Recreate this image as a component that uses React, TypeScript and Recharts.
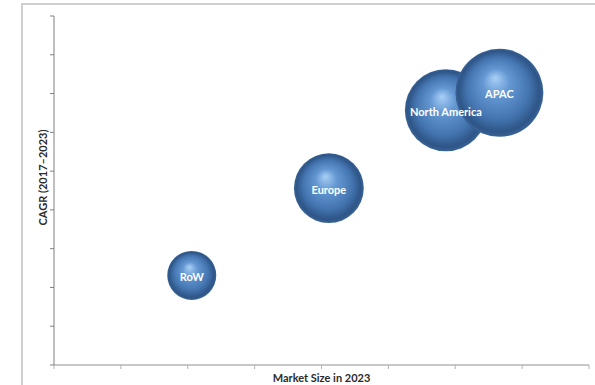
import React from 'react'
import { ScatterChart, Scatter, XAxis, YAxis, ZAxis, LabelList } from 'recharts'

// regions (x = market size, y = CAGR, z = relative bubble area)
const regions = ['RoW', 'Europe', 'North America', 'APAC']
const marketSize = [2.06, 4.11, 5.86, 6.66]
const cagr = [2.31, 4.56, 6.57, 7.02]
const bubbleSize = [31, 63, 87, 100]

const xTicks = [0, 1, 2, 3, 4, 5, 6, 7, 8]
const yTicks = [0, 1, 2, 3, 4, 5, 6, 7, 8, 9]

const data = regions.map((name, i) => ({ name, x: marketSize[i], y: cagr[i], z: bubbleSize[i] }))

const font = 'Lato, "Open Sans", sans-serif'

function Sphere(props: any) {
  const { cx, cy, width } = props
  return <circle cx={cx} cy={cy} r={width / 2} fill="url(#sphere)" />
}

function BubbleLabel(props: any) {
  const { viewBox, value } = props
  const cx = viewBox.x + viewBox.width / 2
  const cy = viewBox.y + viewBox.height / 2
  return (
    <text x={cx} y={cy + 1} textAnchor="middle" dominantBaseline="central"
      fontFamily={font} fontWeight="bold" fontSize={11} fill="#ffffff">
      {value}
    </text>
  )
}

function CagrLabel(props: any) {
  const { viewBox } = props
  const x = viewBox.x + 42
  const y = viewBox.y + viewBox.height / 2 - 13
  return (
    <text x={x} y={y} transform={`rotate(-90 ${x} ${y})`} textAnchor="middle" dominantBaseline="central"
      fontFamily={font} fontWeight="bold" fontSize={11} fill="#2b2b2b">
      CAGR (2017–2023)
    </text>
  )
}

const noLabel = () => ''

export default function App() {
  return (
    <div style={{ position: 'absolute', left: 0, top: 0, width: 595, height: 385, background: '#fff', overflow: 'hidden' }}>
      <div style={{ position: 'absolute', left: 21, top: 3, width: 600, height: 400, borderLeft: '2px solid #cfcfcf', borderTop: '2px solid #cfcfcf' }} />
      <ScatterChart width={595} height={385} margin={{ top: 16, right: 6, left: 0, bottom: 0 }} style={{ position: 'absolute', left: 0, top: 0 }}>
        <defs>
          <radialGradient id="sphere" cx="50%" cy="50%" r="50%" fx="45%" fy="33%">
            <stop offset="0%" stopColor="#a9d0f6" />
            <stop offset="30%" stopColor="#6598d3" />
            <stop offset="70%" stopColor="#4475b0" />
            <stop offset="92%" stopColor="#2e5587" />
            <stop offset="100%" stopColor="#3a6396" />
          </radialGradient>
        </defs>
        <XAxis dataKey="x" type="number" domain={[0, 8]} ticks={xTicks} tickFormatter={noLabel} height={20}
          axisLine={{ stroke: '#b4b4b4', strokeWidth: 1.5 }} tickLine={{ stroke: '#b4b4b4' }} tickSize={4}
          label={{ value: 'Market Size in 2023', position: 'insideBottom', offset: 3, fill: '#2b2b2b', fontSize: 11, fontWeight: 'bold', fontFamily: font }} />
        <YAxis dataKey="y" type="number" domain={[0, 9]} ticks={yTicks} tickFormatter={noLabel} width={54}
          axisLine={{ stroke: '#808080' }} tickLine={{ stroke: '#808080' }} tickSize={4}
          label={<CagrLabel />} />
        <ZAxis dataKey="z" type="number" domain={[0, 100]} range={[0, Math.PI * 44 * 44]} />
        <Scatter data={data} shape={<Sphere />} isAnimationActive={false}>
          <LabelList dataKey="name" content={<BubbleLabel />} />
        </Scatter>
      </ScatterChart>
    </div>
  )
}
